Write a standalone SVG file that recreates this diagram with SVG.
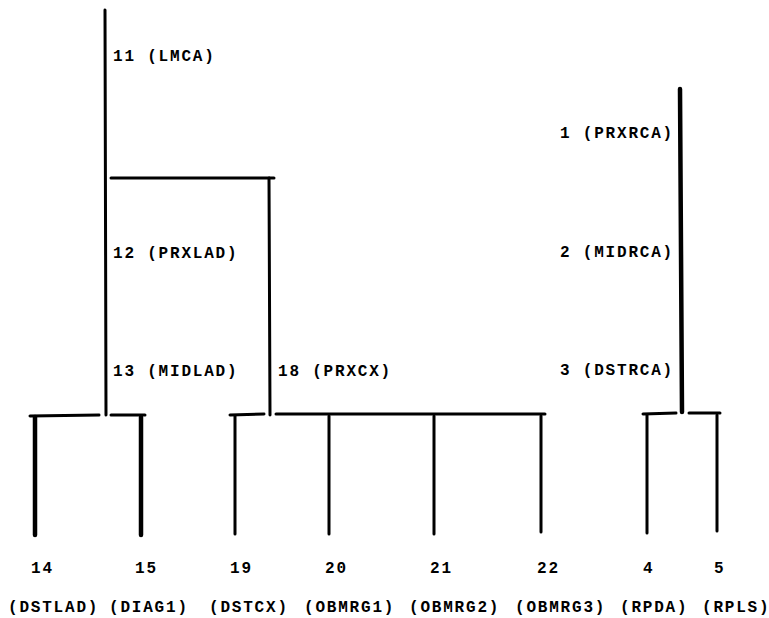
<svg xmlns="http://www.w3.org/2000/svg" width="769" height="618" viewBox="0 0 769 618">
<style>
.l{stroke:#000;stroke-width:3;stroke-linecap:round;fill:none}
.k{stroke-width:4.5}
text{font-family:"Liberation Mono","DejaVu Sans Mono",monospace;font-weight:bold;font-size:16px;letter-spacing:1.8px;fill:#000}
</style>
<rect width="769" height="618" fill="#fff"/>
<g id="connectors">
<line class="l" x1="105" y1="10" x2="106" y2="415"/>
<line class="l" x1="111" y1="178" x2="274" y2="178"/>
<line class="l" x1="269" y1="178" x2="270" y2="415"/>
<line class="l" x1="30" y1="416" x2="99" y2="415"/>
<line class="l" x1="111" y1="415" x2="145" y2="415"/>
<line class="l k" x1="35" y1="417" x2="35" y2="535"/>
<line class="l k" x1="141" y1="417" x2="141" y2="535"/>
<line class="l" x1="230" y1="415" x2="264" y2="414"/>
<line class="l" x1="276" y1="414" x2="545" y2="414"/>
<line class="l" x1="235" y1="416" x2="235" y2="534"/>
<line class="l" x1="329" y1="416" x2="329" y2="534"/>
<line class="l" x1="434" y1="416" x2="434" y2="534"/>
<line class="l" x1="541" y1="416" x2="541" y2="532"/>
<line class="l k" x1="680" y1="89" x2="682" y2="412"/>
<line class="l" x1="643" y1="414" x2="676" y2="413"/>
<line class="l" x1="689" y1="413" x2="720" y2="413"/>
<line class="l" x1="647" y1="415" x2="647" y2="533"/>
<line class="l" x1="717" y1="415" x2="717" y2="531"/>
</g>
<g id="n11"><text x="113" y="61">11 (LMCA)</text></g>
<g id="n12"><text x="113" y="258">12 (PRXLAD)</text></g>
<g id="n13"><text x="113" y="376">13 (MIDLAD)</text></g>
<g id="n18"><text x="278" y="376">18 (PRXCX)</text></g>
<g id="n1"><text x="560" y="138">1 (PRXRCA)</text></g>
<g id="n2"><text x="560" y="257">2 (MIDRCA)</text></g>
<g id="n3"><text x="560" y="375">3 (DSTRCA)</text></g>
<g id="n14"><text x="31" y="573">14</text><text x="8" y="612">(DSTLAD)</text></g>
<g id="n15"><text x="135" y="573">15</text><text x="109" y="612">(DIAG1)</text></g>
<g id="n19"><text x="230" y="573">19</text><text x="209" y="612">(DSTCX)</text></g>
<g id="n20"><text x="325" y="573">20</text><text x="304" y="612">(OBMRG1)</text></g>
<g id="n21"><text x="430" y="573">21</text><text x="409" y="612">(OBMRG2)</text></g>
<g id="n22"><text x="537" y="573">22</text><text x="515" y="612">(OBMRG3)</text></g>
<g id="n4"><text x="643" y="573">4</text><text x="620" y="612">(RPDA)</text></g>
<g id="n5"><text x="714" y="573">5</text><text x="702" y="612">(RPLS)</text></g>
</svg>
